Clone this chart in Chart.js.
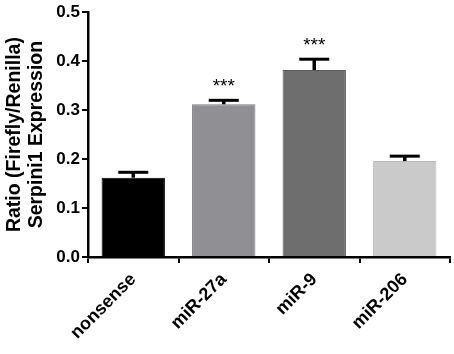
<!DOCTYPE html>
<html><head><meta charset="utf-8">
<script src="https://cdn.jsdelivr.net/npm/chart.js@4"></script>
<style>html,body{margin:0;padding:0;background:#fff}#wrap{width:454px;height:354px}</style>
</head><body><div id="wrap"><canvas id="c" width="454" height="354"></canvas></div>
<script>
const categories = ["nonsense", "miR-27a", "miR-9", "miR-206"];
const values = [0.162, 0.312, 0.382, 0.196];
const errors = [0.011, 0.008, 0.022, 0.010];
const significance = ["", "***", "***", ""];
const yTicks = [0.0, 0.1, 0.2, 0.3, 0.4, 0.5];
const barColors = ["#000000", "#909094", "#6e6e6e", "#cacaca"];
const borderColors = ["#000000", "#7a7a7e", "#5a5a5a", "#b8b8b8"];

const FONT = "'Liberation Sans', Arial, sans-serif";

const errPlugin = {
  id: 'errbars',
  afterDatasetsDraw(chart) {
    const ctx = chart.ctx;
    const meta = chart.getDatasetMeta(0);
    const ys = chart.scales.y;
    ctx.save();
    meta.data.forEach((bar, i) => {
      const x = bar.x;
      const y0 = ys.getPixelForValue(values[i]);
      const y1 = ys.getPixelForValue(values[i] + errors[i]);
      ctx.strokeStyle = '#000';
      ctx.lineWidth = 3.5;
      ctx.beginPath();
      ctx.moveTo(x, y0);
      ctx.lineTo(x, y1);
      ctx.stroke();
      ctx.lineWidth = 3;
      ctx.beginPath();
      ctx.moveTo(x - 15, y1);
      ctx.lineTo(x + 15, y1);
      ctx.stroke();
      if (significance[i]) {
        ctx.fillStyle = '#000';
        ctx.font = "19px " + FONT;
        ctx.textAlign = 'center';
        ctx.textBaseline = 'alphabetic';
        ctx.fillText(significance[i], x, y1 - 8);
      }
    });
    ctx.restore();
  }
};

new Chart(document.getElementById('c'), {
  type: 'bar',
  data: {
    labels: categories,
    datasets: [{
      data: values,
      backgroundColor: barColors,
      borderColor: borderColors,
      borderWidth: 1,
      barPercentage: 0.7,
      categoryPercentage: 1.0
    }]
  },
  options: {
    responsive: false,
    animation: false,
    devicePixelRatio: 1,
    layout: { padding: { top: 12, right: 4, left: 0, bottom: 0 } },
    plugins: { legend: { display: false }, tooltip: { enabled: false } },
    scales: {
      x: {
        offset: true,
        grid: { drawOnChartArea: false, drawTicks: true, tickLength: 6, color: '#000', lineWidth: 2 },
        border: { color: '#000', width: 2.5 },
        ticks: {
          color: '#000',
          font: { family: FONT, size: 18, weight: 'bold' },
          minRotation: 45, maxRotation: 45, padding: 6
        },
        afterFit(axis) { axis.height = 97; }
      },
      y: {
        min: 0, max: 0.5,
        afterBuildTicks(axis) { axis.ticks = yTicks.map(v => ({ value: v })); },
        grid: { drawOnChartArea: false, drawTicks: true, tickLength: 6, color: '#000', lineWidth: 2 },
        border: { color: '#000', width: 2.5 },
        ticks: {
          color: '#000',
          font: { family: FONT, size: 17, weight: 'bold' },
          padding: 2,
          callback: (v) => Number(v).toFixed(1)
        },
        title: {
          display: true,
          text: ["Ratio (Firefly/Renilla)", "Serpini1 Expression"],
          color: '#000',
          font: { family: FONT, size: 19.5, weight: 'bold', lineHeight: 1.1 },
          padding: { top: 4, bottom: 2 }
        },
        afterFit(axis) { axis.width = 88; }
      }
    }
  },
  plugins: [errPlugin]
});
</script>
</body></html>
